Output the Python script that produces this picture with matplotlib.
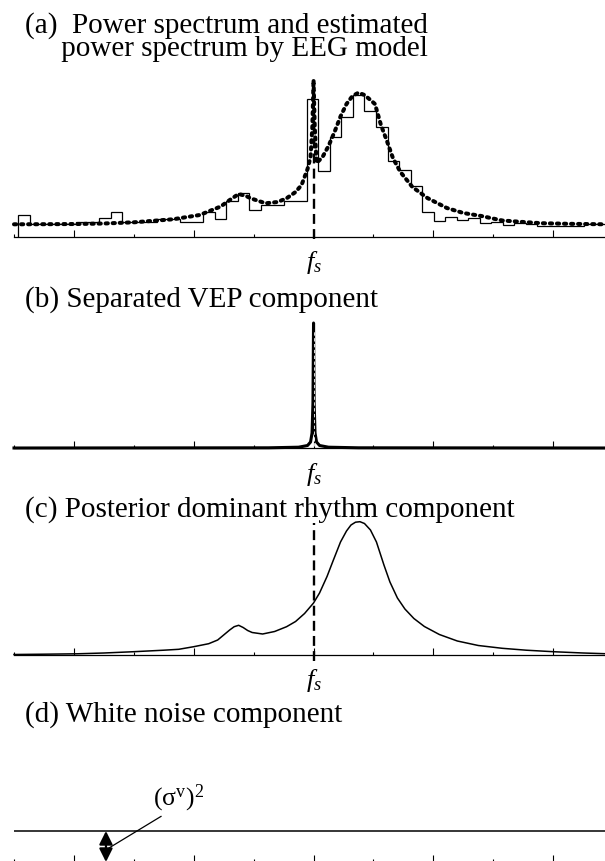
import numpy as np
import matplotlib
matplotlib.use("Agg")
import matplotlib.pyplot as plt
from matplotlib.ticker import FixedLocator

plt.rcParams['font.family'] = ['Liberation Serif', 'DejaVu Serif']
plt.rcParams['mathtext.fontset'] = 'custom'
plt.rcParams['mathtext.rm'] = 'Liberation Serif'
plt.rcParams['mathtext.it'] = 'Liberation Serif:italic'

# ---- data (frequency in Hz, power in arbitrary units) ----
fs = 10.0
x_max = 19.73

# (a) observed power spectrum (histogram-like steps)
hist_edges = 0.15 + 0.385 * np.arange(52)
hist_power = [22, 13, 13, 13, 13, 15.3, 15.3, 18.7, 25.3, 15.3,
              15.3, 15.3, 17.7, 17.7, 15.3, 15.3, 25.3, 17.7, 36, 43.7,
              27, 32, 32, 36, 36, 138, 66, 100.3, 120, 142,
              126, 109.7, 76, 67, 51.3, 25, 15.7, 20, 17.5, 19.5,
              13.7, 14.7, 12, 13.7, 13, 11.3, 11.3, 11.3, 11.3, 13,
              13]

# (a) estimated spectrum by EEG model
f_model = [0.0, 1.0, 2.1, 3.0, 4.0, 5.3, 6.2, 6.9, 7.25, 7.5, 7.75, 7.9,
           8.4, 8.8, 9.1, 9.4, 9.6, 9.8, 9.9, 9.96, 10.0, 10.04, 10.1,
           10.3, 10.5, 10.7, 10.9, 11.1, 11.3, 11.5, 11.7, 11.9, 12.05,
           12.25, 12.45, 12.65, 12.9, 13.3, 13.8, 14.45, 15.0, 15.6, 16.3,
           17.0, 17.6, 18.5, 19.73]
p_model = [12.7, 12.8, 13, 13.5, 14.7, 17.7, 22, 30.5, 38, 43, 41, 38.7,
           33.7, 35, 38.7, 45, 52, 68, 80, 110, 157, 110, 74,
           80, 91, 105, 120.5, 133, 141, 144.3, 142, 137, 133,
           112, 96, 79, 65, 50, 39, 29, 24, 21, 16.5,
           15, 13.8, 13.2, 12.7]

# (b) VEP component
f_vep = [0.0, 8.5, 9.5, 9.8, 9.9, 9.95, 9.98, 10.0, 10.02, 10.05, 10.1,
         10.2, 10.5, 11.5, 19.73]
p_vep = [0.0, 0.2, 0.8, 2.5, 6, 15, 45, 125, 45, 15, 6, 2.5, 0.8, 0.2, 0.0]

# (c) posterior dominant rhythm component
f_alpha = [0.0, 1.0, 2.1, 3.0, 4.0, 5.0, 5.5, 6.0, 6.5, 6.8, 7.0, 7.2,
           7.35, 7.5, 7.65, 7.8, 7.95, 8.3, 8.7, 9.1, 9.4, 9.7, 10.0,
           10.2, 10.45, 10.65, 10.9, 11.1, 11.25, 11.4, 11.55, 11.7, 11.9,
           12.1, 12.35, 12.55, 12.8, 13.05, 13.35, 13.7, 14.2, 14.8, 15.5,
           16.3, 17.1, 18.0, 19.0, 19.73]
p_alpha = [0.5, 0.8, 1.2, 2, 3.3, 4.8, 5.7, 8.3, 11.3, 15, 20, 25,
           28.3, 29.7, 27.5, 24.5, 22.5, 21, 23.5, 28.3, 33.5, 41.5, 52,
           62, 78.5, 94, 113, 124, 130, 132.8, 133.3, 131.5, 125,
           113, 90, 73, 57, 46, 36.5, 28.5, 20.5, 14, 9.5,
           6.7, 4.8, 3.3, 2, 1.3]

# (d) white noise level
noise_var = 31
arrow_f = 3.07

major_ticks = [2, 6, 10, 14, 18]
minor_ticks = [0, 4, 8, 12, 16]

W, H = 605, 861
fig = plt.figure(figsize=(W / 100, H / 100), dpi=100)


def make_ax(y_axis, top, ymax):
    # y_axis / top in pixels from the top of the figure
    ax = fig.add_axes([14 / W, (H - y_axis) / H, (W - 14) / W, (y_axis - top) / H])
    ax.set_xlim(0, x_max)
    ax.set_ylim(0, ymax)
    for s in ['top', 'left', 'right']:
        ax.spines[s].set_visible(False)
    ax.spines['bottom'].set_linewidth(0.9)
    ax.xaxis.set_major_locator(FixedLocator(major_ticks))
    ax.xaxis.set_minor_locator(FixedLocator(minor_ticks))
    ax.tick_params(axis='x', which='major', direction='in', length=5, width=0.8, labelbottom=False)
    ax.tick_params(axis='x', which='minor', direction='in', length=2.5, width=0.8)
    ax.set_yticks([])
    ax.patch.set_alpha(0)
    return ax


def fs_label(ax):
    ax.annotate('$f_s$', xy=(fs, 0), xytext=(0, -9), textcoords='offset points',
                ha='center', va='top', fontsize=19, annotation_clip=False)


dash = (0, (4.2, 2.2))

# (a)
ax = make_ax(237, 78, 159)
ax.stairs(hist_power, hist_edges, baseline=0, color='black', lw=0.9, clip_on=False)
ax.plot([fs, fs], [-2, 150], color='black', lw=1.7, linestyle=dash, clip_on=False)
ax.plot(f_model, p_model, color='black', lw=2.9, linestyle=(0, (0.55, 1.2)),
        dash_capstyle='round', clip_on=False)
fs_label(ax)

# (b)
ax = make_ax(448, 320, 128)
ax.plot(f_vep, p_vep, color='black', lw=2.2, clip_on=False)
ax.plot([fs, fs], [2, 118], color='white', lw=0.6, linestyle=(0, (4, 3)))
fs_label(ax)

# (c)
ax = make_ax(655, 518, 137)
ax.plot(f_alpha, p_alpha, color='black', lw=1.1, clip_on=False)
ax.plot([fs, fs], [-6, 132], color='black', lw=1.7, linestyle=dash, clip_on=False)
fs_label(ax)

# (d)
ax = make_ax(862, 820, 42)
ax.axhline(noise_var, color='black', lw=1.1)
ax.annotate('', xy=(arrow_f, noise_var), xytext=(arrow_f, 0),
            arrowprops=dict(arrowstyle='<|-|>', color='black', lw=1.6,
                            mutation_scale=20, shrinkA=0, shrinkB=0),
            annotation_clip=False)
ax.annotate('(σ$^{\\mathrm{v}}$)$^2$', xy=(arrow_f + 0.1, 14), xytext=(4.64, 57),
            textcoords='data', fontsize=18.5, ha='left', va='baseline',
            arrowprops=dict(arrowstyle='-', color='black', lw=0.9,
                            relpos=(0.25, 0), shrinkA=0, shrinkB=0),
            annotation_clip=False)

# titles
def title(x, y, s, **kw):
    fig.text(x / W, 1 - y / H, s, fontsize=21, ha='left', va='baseline', **kw)

# two-line title of (a) as one text, baselines ~22 px apart
fig.text(25 / W, 1 - 12 / H,
         '(a)  Power spectrum and estimated\n     power spectrum by EEG model',
         fontsize=21, ha='left', va='top', linespacing=0.87)
title(25, 307, '(b) Separated VEP component')
title(25, 517, '(c) Posterior dominant rhythm component')
title(25, 722, '(d) White noise component')

fig.savefig('out.png', dpi=100)
